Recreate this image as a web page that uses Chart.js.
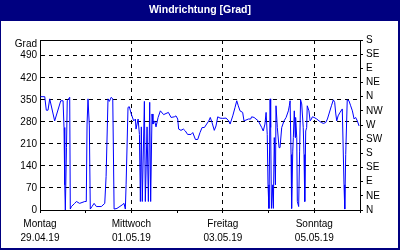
<!DOCTYPE html>
<html>
<head>
<meta charset="utf-8">
<script src="https://cdn.jsdelivr.net/npm/chart.js@4"></script>
<style>
  html, body { margin: 0; padding: 0; background: #fff; }
</style>
</head>
<body>
<canvas id="windChart" width="400" height="250"></canvas>
<script>
// hours since Mon 29.04.19 00:00
const hours = [
  0.3, 2.5, 3.3, 4.2, 5.1, 7.7, 10.9, 12.1, 12.6, 13.0, 13.3, 13.9, 14.3, 15.6, 15.9, 16.5,
  18.2, 19.1, 20.8, 23.5, 24.3, 24.7, 25.2, 25.9, 26.4, 27.3, 28.4, 29.6, 32.2, 34.0, 34.7, 35.7,
  36.4, 37.4, 38.2, 38.9, 40.4, 43.1, 44.1, 44.8, 45.2, 46.2, 46.9, 47.9, 49.2, 50.1, 50.4, 51.5,
  52.2, 52.7, 53.2, 53.7, 54.8, 55.3, 56.2, 56.9, 57.6, 58.1, 58.8, 59.3, 60.2, 60.9, 62.0, 63.2,
  64.9, 67.4, 68.8, 70.5, 71.4, 72.3, 72.8, 74.0, 75.3, 76.3, 77.5, 79.3, 80.2, 81.6, 82.8, 84.0,
  85.1, 86.3, 87.5, 88.6, 89.4, 90.3, 91.5, 92.4, 93.3, 94.5, 95.9, 97.7, 99.1, 99.8, 101.2, 102.4,
  103.3, 104.1, 105.0, 106.4, 107.1, 109.4, 110.6, 111.1, 112.4, 113.4, 114.6, 116.4, 117.2, 118.1, 118.7, 119.3,
  119.7, 120.2, 120.8, 121.1, 121.5, 122.2, 122.5, 123.0, 123.6, 123.9, 124.6, 125.5, 126.0, 126.9, 128.1, 129.2,
  130.4, 130.9, 131.3, 131.8, 132.1, 132.7, 133.0, 133.5, 134.0, 134.2, 134.8, 135.1, 135.8, 136.3, 136.8, 137.4,
  138.2, 138.6, 139.0, 139.5, 140.0, 140.3, 141.2, 141.8, 142.5, 143.0, 143.9, 145.3, 146.5, 147.7, 148.8, 150.0,
  150.9, 151.7, 153.0, 154.0, 154.7, 155.3, 155.8, 156.5, 157.5, 158.7, 159.6, 160.0, 160.5, 161.3, 162.2, 163.1,
  164.0, 164.9, 165.7, 166.6, 167.5
];
const degrees = [
  360, 360, 317, 317, 353, 283, 347, 347, 262, 80, 0, 198, 347, 358, 3, 11,
  21, 27, 21, 27, 27, 273, 353, 267, 3, 11, 21, 11, 11, 21, 107, 353,
  345, 358, 353, 3, 5, 16, 21, 3, 80, 326, 328, 305, 283, 289, 257, 289,
  240, 27, 264, 27, 345, 27, 264, 27, 342, 27, 305, 273, 283, 264, 294, 315,
  303, 310, 294, 296, 299, 289, 257, 253, 257, 251, 240, 240, 246, 224, 224, 246,
  262, 262, 273, 283, 294, 278, 253, 267, 296, 292, 291, 292, 283, 273, 299, 326,
  347, 331, 315, 310, 283, 289, 289, 296, 294, 289, 283, 262, 251, 273, 310, 240,
  80, 5, 353, 262, 5, 80, 5, 230, 80, 331, 262, 198, 198, 262, 283, 294,
  315, 331, 347, 176, 5, 187, 230, 315, 230, 294, 230, 27, 11, 187, 350, 337,
  262, 176, 27, 251, 262, 331, 315, 283, 289, 296, 294, 289, 283, 278, 275, 278,
  289, 305, 331, 350, 342, 305, 283, 299, 310, 321, 80, 3, 176, 350, 347, 331,
  315, 289, 294, 283, 267
];

const yTicks = [0, 70, 140, 210, 280, 350, 420, 490];
const yUnit = 'Grad';
const dirTicks = [0, 45, 90, 135, 180, 225, 270, 315, 360, 405, 450, 495, 540];
const dirLabels = ['N', 'NE', 'E', 'SE', 'S', 'SW', 'W', 'NW', 'N', 'NE', 'E', 'SE', 'S'];
const dayTicks = [0, 24, 48, 72, 96, 120, 144, 168];
const dayNames = ['Montag', 'Mittwoch', 'Freitag', 'Sonntag'];
const dayDates = ['29.04.19', '01.05.19', '03.05.19', '05.05.19'];

const NAVY = '#000080';

Chart.defaults.font.family = '"Liberation Sans", Arial, sans-serif';
Chart.defaults.font.size = 10;
Chart.defaults.color = '#000';

// navy title band and frame, plus top border of the plot
const framePlugin = {
  id: 'frame',
  beforeDraw(chart) {
    const ctx = chart.ctx;
    ctx.save();
    ctx.fillStyle = '#fff';
    ctx.fillRect(0, 0, chart.width, chart.height);
    ctx.fillStyle = NAVY;
    ctx.fillRect(0, 0, chart.width, 21);
    ctx.fillRect(0, 0, 1, chart.height);
    ctx.fillRect(chart.width - 2, 0, 2, chart.height);
    ctx.fillRect(0, chart.height - 2, chart.width, 2);
    ctx.restore();
  },
  afterDraw(chart) {
    const {ctx, chartArea} = chart;
    ctx.save();
    ctx.strokeStyle = '#000';
    ctx.lineWidth = 1;
    ctx.beginPath();
    ctx.moveTo(chartArea.left, Math.round(chartArea.top) + 0.5);
    ctx.lineTo(chartArea.right, Math.round(chartArea.top) + 0.5);
    ctx.stroke();
    ctx.restore();
  }
};

new Chart(document.getElementById('windChart'), {
  type: 'line',
  data: {
    datasets: [{
      data: hours.map((h, i) => ({x: h, y: degrees[i]})),
      borderColor: '#0000ff',
      borderWidth: 1,
      pointRadius: 0,
      tension: 0,
      yAxisID: 'y'
    }]
  },
  options: {
    responsive: false,
    animation: false,
    plugins: {
      legend: { display: false },
      tooltip: { enabled: false },
      title: {
        display: true,
        text: 'Windrichtung [Grad]',
        color: '#fff',
        font: { size: 10.5, weight: 'bold', lineHeight: '12px' },
        padding: { top: 4, bottom: 24 }
      }
    },
    scales: {
      x: {
        type: 'linear',
        min: 0,
        max: 168,
        afterBuildTicks: s => { s.ticks = dayTicks.map(v => ({value: v})); },
        afterFit: s => { s.height = 40; },
        ticks: {
          autoSkip: false,
          maxRotation: 0,
          padding: 4,
          font: { lineHeight: '14px' },
          callback: (v, i) => (i % 2 === 0 && dayNames[i / 2]) ? [dayNames[i / 2], dayDates[i / 2]] : ''
        },
        grid: {
          color: c => (c.tick && c.tick.value % 48 === 0) ? '#000' : 'transparent',
          tickColor: '#000',
          tickLength: 3
        },
        border: { color: '#000', dash: [4, 4] }
      },
      y: {
        position: 'left',
        min: 0,
        max: 540,
        afterBuildTicks: s => { s.ticks = yTicks.map(v => ({value: v})).concat({value: 525}); },
        afterFit: s => { s.width = 40; },
        ticks: {
          autoSkip: false,
          padding: 3,
          callback: v => v === 525 ? yUnit : v
        },
        grid: {
          drawTicks: false,
          color: c => (c.tick && c.tick.value > 0 && c.tick.value < 500) ? '#000' : 'transparent'
        },
        border: { color: '#000', dash: [4, 4] }
      },
      y2: {
        position: 'right',
        min: 0,
        max: 540,
        afterBuildTicks: s => { s.ticks = dirTicks.map(v => ({value: v})); },
        afterFit: s => { s.width = 40; },
        ticks: {
          autoSkip: false,
          padding: 3,
          callback: (v, i) => dirLabels[i]
        },
        grid: {
          drawOnChartArea: false,
          tickColor: '#000',
          tickLength: 3
        },
        border: { color: '#000' }
      }
    }
  },
  plugins: [framePlugin]
});
</script>
</body>
</html>
